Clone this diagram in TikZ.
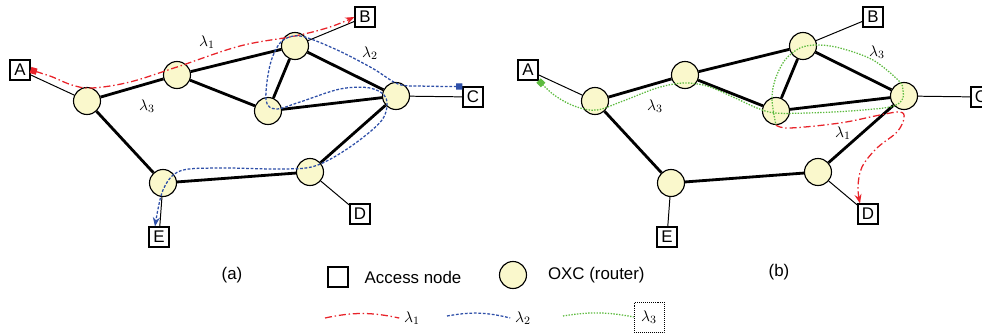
\documentclass[tikz,border=0pt]{standalone}
\usepackage{fontspec}
\setmainfont{Liberation Sans}
\usepackage[HTML]{xcolor}
\usetikzlibrary{positioning, arrows, arrows.meta}

\definecolor{oxcfill}{HTML}{FAF8CC}
\definecolor{lamred}{HTML}{E8232A}
\definecolor{lamblue}{HTML}{2E4FA8}
\definecolor{lamgreen}{HTML}{5DBB3F}

\tikzset{
  oxc/.style={circle, draw, line width=0.8pt, fill=oxcfill, minimum size=0.675cm, inner sep=0pt},
  access/.style={draw, line width=0.8pt, fill=white, minimum size=0.5cm, inner sep=0pt, font=\fontsize{12}{14}\selectfont},
  trunk/.style={line width=2pt},
  tail/.style={line width=0.7pt},
  lam/.style={font=\fontsize{11}{13}\selectfont},
  lamone/.style={lamred, line width=0.9pt, dash pattern=on 5pt off 2pt on 1pt off 2pt},
  lamtwo/.style={lamblue, line width=0.9pt, dash pattern=on 2pt off 1.2pt},
  lamthree/.style={lamgreen, line width=0.9pt, dash pattern=on 1pt off 1pt},
  src/.tip={Square[length=4.5pt,width=4.5pt]},
  dst/.tip={Stealth[length=6.5pt,width=5pt]}
}

\begin{document}
\begin{tikzpicture}[x=0.025cm, y=-0.025cm]
\useasboundingbox (0,0) rectangle (982,336);

% both networks
\foreach \p/\dx in {a/0,b/508}{
  \foreach \n/\x/\y in {1/87/101, 2/177/75, 3/295/46, 4/268/111, 5/396/96, 6/163/183, 7/310/172}
    \node[oxc] (\p\n) at (\dx+\x,\y) {};
  \foreach \n/\x/\y in {A/20/70, B/365/17, C/473/97, D/360/214, E/159/237}
    \node[access] (\n\p) at (\dx+\x,\y) {\n};
  \foreach \u/\v in {1/2, 2/3, 2/4, 3/4, 3/5, 4/5, 1/6, 6/7, 7/5}
    \draw[trunk] (\p\u) -- (\p\v);
  \foreach \u/\v in {A/1, B/3, C/5, D/7, E/6}
    \draw[tail] (\u\p) -- (\p\v);
}

% (a) lightpaths
\draw[lamone, src-dst] plot[smooth, tension=0.6] coordinates {(Aa.east) (50,76) (72,85) (92,88) (130,82) (177,67) (240,46) (295,36) (330,27) (Ba.west)};
\draw[lamtwo, src-dst] plot[smooth, tension=0.55] coordinates {(Ca.north west) (420,86) (398,84) (372,68) (335,49) (300,36) (281,42) (270,65) (266,100) (276,109) (300,102) (340,89) (370,88) (386,98) (382,120) (350,147) (315,166) (280,169) (220,168) (180,171) (163,190) ([xshift=-0.1cm]Ea.north)};
\node[lam] (l1a) at (207,42) {$\lambda_1$};
\node[lam] (l2a) at (370,53) {$\lambda_2$};
\node[lam] (l3a) at (147,106) {$\lambda_3$};

% (b) lightpaths
\draw[lamthree, src-] plot[smooth, tension=0.55] coordinates {(Ab.south east) (557,97) (577,107) (597,110) (623,101) (657,88) (683,83) (707,86) (733,97) (757,108) (775,113) (807,113) (850,111) (890,107) (902,100) (903,90) (899,81) (873,60) (840,48) (817,45) (800,48) (785,60) (775,80) (772,100) (b4.south)};
\draw[lamone, -dst] plot[smooth, tension=0.6] coordinates {(b4.south) (790,128) (840,123) (880,115) (900,112) (904,118) (897,132) (877,148) (862,167) (858,187) ([xshift=-0.2cm]Db.north)};
\node[lam] (l3b) at (655,106) {$\lambda_3$};
\node[lam] (l3c) at (877,52) {$\lambda_3$};
\node[lam] (l1b) at (843,133) {$\lambda_1$};

% captions and legend
\node[font=\fontsize{12}{14}\selectfont] (capa) at (232,275) {(a)};
\node[font=\fontsize{12}{14}\selectfont] (capb) at (779,272) {(b)};
\node[access] (keyacc) at (338,277) {};
\node[right=0.28cm of keyacc, font=\fontsize{12}{14}\selectfont] (keyacct) {Access node};
\node[oxc] (keyoxc) at (513,275) {};
\node[right=0.4cm of keyoxc, font=\fontsize{12}{14}\selectfont] (keyoxct) {OXC (router)};
\node[lam] (k1) at (412,318) {$\lambda_1$};
\node[lam] (k2) at (523,318) {$\lambda_2$};
\node[lam, draw, densely dotted, thin, minimum size=0.75cm, inner sep=0pt] (k3) at (649,317) {$\lambda_3$};
\draw[lamone] (325,318) to[bend left=12] (k1.west);
\draw[lamtwo] (447,316) to[bend left=12] (k2.west);
\draw[lamthree] (563,316) to[bend left=10] (k3.west);
\end{tikzpicture}
\end{document}
